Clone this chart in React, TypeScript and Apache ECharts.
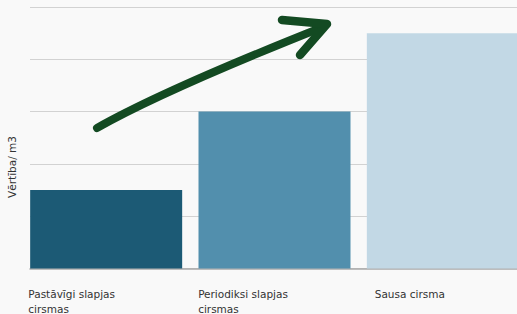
import React, { useEffect, useRef } from "react";
import * as echarts from "echarts";

const categories = ["Pastāvīgi slapjas cirsmas", "Periodiksi slapjas cirsmas", "Sausa cirsma"];
const values = [1.5, 3, 4.5];
const barColors = ["#1c5a75", "#528fad", "#c2d8e5"];
const yAxisName = "Vērtība/ m3";
const yMin = 0;
const yMax = 5;
const yInterval = 1;

// label horizontal nudges (layout only)
const labelShift = [-69, -63, -66];

function wrap(s: string, max: number) {
  const words = s.split(" ");
  const lines: string[] = [];
  let cur = "";
  for (const w of words) {
    const t = cur ? cur + " " + w : w;
    if (t.length > max && cur) {
      lines.push(cur);
      cur = w;
    } else cur = t;
  }
  if (cur) lines.push(cur);
  return lines.map((l) => "{a|" + l + "}").join("\n");
}

export default function App() {
  const ref = useRef<HTMLDivElement>(null);
  useEffect(() => {
    document.body.style.margin = "0";
    document.body.style.background = "#f9f9f9";
    const chart = echarts.init(ref.current!, null, { renderer: "svg" });
    const font = "'DejaVu Sans', sans-serif";
    chart.setOption({
      animation: false,
      backgroundColor: "#f9f9f9",
      grid: [
        { left: 30, right: 0, top: 7, bottom: 45.5, containLabel: false, outerBoundsMode: "none" },
        { left: 22, width: 505, top: 7, bottom: 45.5, containLabel: false, outerBoundsMode: "none" },
      ],
      xAxis: [
        {
          gridIndex: 0,
          type: "category",
          data: categories,
          axisLine: { show: true, lineStyle: { color: "#a8a8a8", width: 1.5 } },
          axisTick: { show: false },
          axisLabel: { show: false },
        },
        {
          gridIndex: 1,
          type: "category",
          data: categories.map((c, i) => ({
            value: c,
            textStyle: { padding: [0, 0, 0, labelShift[i]] },
          })),
          axisLine: { show: false },
          axisTick: { show: false },
          axisLabel: {
            interval: 0,
            hideOverlap: false,
            align: "left",
            verticalAlign: "top",
            margin: 18,
            formatter: (v: string) => wrap(v, 18),
            rich: {
              a: {
                align: "left",
                fontFamily: font,
                fontSize: 10.5,
                lineHeight: 15,
                color: "#333",
              },
            },
          },
        },
      ],
      yAxis: [
        {
          gridIndex: 0,
          type: "value",
          min: yMin,
          max: yMax,
          interval: yInterval,
          axisLabel: { show: false },
          axisLine: { show: false },
          axisTick: { show: false },
          splitLine: { lineStyle: { color: "#d2d2d2", width: 1.2 } },
        },
        {
          gridIndex: 1,
          type: "value",
          min: yMin,
          max: yMax,
          interval: yInterval,
          show: false,
          splitLine: { show: false },
        },
      ],
      series: [
        {
          type: "bar",
          xAxisIndex: 1,
          yAxisIndex: 1,
          barCategoryGap: "9.7%",
          data: values.map((v, i) => ({ value: v, itemStyle: { color: barColors[i] } })),
        },
      ],
      graphic: [
        {
          type: "text",
          x: 12,
          y: 167,
          rotation: Math.PI / 2,
          style: {
            text: yAxisName,
            fontFamily: font,
            fontSize: 10.5,
            fill: "#333",
            align: "center",
            verticalAlign: "middle",
          },
        },
        {
          type: "bezierCurve",
          z: 100,
          shape: { x1: 97, y1: 128, cpx1: 150, cpy1: 98, cpx2: 250, cpy2: 56, x2: 323, y2: 27 },
          style: { stroke: "#134a22", lineWidth: 8, lineCap: "round", fill: null },
        },
        {
          type: "polyline",
          z: 100,
          shape: { points: [[282, 20], [327, 24], [300, 55]] },
          style: { stroke: "#134a22", lineWidth: 8.5, lineCap: "round", lineJoin: "round", fill: null },
        },
      ],
    });
    return () => chart.dispose();
  }, []);
  return <div ref={ref} style={{ width: 517, height: 314 }} />;
}
